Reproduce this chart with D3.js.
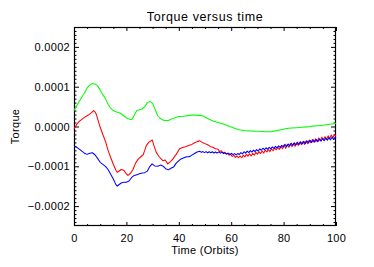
<!DOCTYPE html>
<html><head><meta charset="utf-8">
<script src="https://cdn.jsdelivr.net/npm/d3@7"></script>
<style>
html,body{margin:0;padding:0;background:#fff;}
svg{display:block;}
text{font-family:"Liberation Sans",Arial,Helvetica,sans-serif;fill:#000;}
</style></head>
<body><svg id="chart" width="374" height="267"></svg>
<script>
// Torque values are in units of 1e-4
const UNIT = 1e-4;
const titleText = "Torque versus time";
const xLabel = "Time (Orbits)";
const yLabel = "Torque";
const xTicks = [0, 20, 40, 60, 80, 100];
const xMinorTicks = [5,10,15,25,30,35,45,50,55,65,70,75,85,90,95];
const yTicks = [-0.0002, -0.0001, 0, 0.0001, 0.0002];
const yTickLabels = ["\u22120.0002", "\u22120.0001", "0.0000", "0.0001", "0.0002"];
const yMinorTicks = [-2.4,-2.3,-2.2,-2.1,-1.9,-1.8,-1.7,-1.6,-1.5,-1.4,-1.3,-1.2,-1.1,-0.9,-0.8,-0.7,-0.6,-0.5,-0.4,-0.3,-0.2,-0.1,0.1,0.2,0.3,0.4,0.5,0.6,0.7,0.8,0.9,1.1,1.2,1.3,1.4,1.5,1.6,1.7,1.8,1.9,2.1,2.2,2.3,2.4];

const greenSeries = [[0,0.40],[1,0.52],[2,0.63],[3,0.74],[4,0.84],[5,0.97],[6,1.04],[7,1.08],[8,1.07],[9,1.02],[10,0.92],[11,0.80],[12,0.70],[13,0.56],[14,0.46],[15,0.40],[16,0.37],[17,0.35],[18,0.32],[19,0.27],[20,0.22],[21,0.19],[22,0.17],[23,0.28],[24,0.40],[25,0.42],[26,0.44],[27,0.50],[28,0.60],[29,0.63],[30,0.58],[31,0.42],[32,0.27],[33,0.20],[34,0.16],[35,0.15],[36,0.15],[37,0.18],[38,0.21],[40,0.25],[42,0.26],[44,0.28],[46,0.29],[48,0.28],[49,0.27],[50,0.24],[51,0.20],[52,0.17],[53,0.14],[55,0.10],[57,0.06],[59,0.01],[61,-0.04],[63,-0.08],[65,-0.10],[67,-0.11],[70,-0.12],[73,-0.13],[75,-0.13],[77,-0.11],[79,-0.08],[81,-0.05],[83,-0.04],[85,-0.03],[87,-0.02],[89,-0.01],[91,0.01],[93,0.02],[95,0.03],[97,0.05],[99,0.07],[100,0.08]];

const redSeries = [[0,-0.06],[1,0.05],[2,0.13],[3,0.18],[4,0.23],[5,0.27],[6,0.31],[7,0.37],[7.5,0.40],[8,0.37],[8.5,0.31],[9,0.20],[10,-0.02],[11,-0.20],[12,-0.37],[13,-0.60],[14,-0.78],[15,-0.95],[16,-1.10],[16.5,-1.15],[17,-1.13],[18,-1.08],[19,-1.10],[20,-1.19],[20.6,-1.23],[21.5,-1.18],[22.5,-1.08],[23.5,-0.92],[24.5,-0.82],[25.5,-0.76],[26.4,-0.71],[27,-0.60],[27.6,-0.48],[28.5,-0.40],[29.9,-0.34],[30.5,-0.48],[31.4,-0.65],[32.5,-0.76],[33.9,-0.86],[34.8,-0.84],[35.8,-0.94],[36.8,-0.88],[37.7,-0.82],[39,-0.70],[40.3,-0.56],[41.5,-0.53],[42.8,-0.50],[44,-0.47],[45,-0.45],[46,-0.41],[47,-0.38],[48,-0.36],[49,-0.40],[50,-0.43],[51,-0.46],[52,-0.50],[53,-0.52],[54,-0.56],
[55,-0.57],[55.6,-0.63],[56.2,-0.61],[56.8,-0.66],[57.4,-0.645],[58,-0.69],[58.6,-0.67],[59.2,-0.72],[59.8,-0.70],[60.4,-0.75],[61,-0.725],[61.6,-0.775],[62.2,-0.74],[62.8,-0.785],[63.4,-0.74],[64,-0.785],[64.6,-0.72],[65.2,-0.765],[65.8,-0.70],[66.4,-0.745],[67,-0.685],[67.6,-0.74],[68.2,-0.675],[68.8,-0.72],[69.4,-0.65],[70,-0.695],[70.6,-0.63],[71.2,-0.68],[71.8,-0.615],[72.4,-0.665],[73,-0.595],[73.6,-0.64],[74.2,-0.58],[74.8,-0.63],[75.4,-0.565],[76,-0.61],[76.6,-0.54],[77.2,-0.585],[77.8,-0.52],[78.4,-0.575],[79,-0.50],[79.6,-0.56],[80.2,-0.465],[80.8,-0.55],[81.4,-0.455],[82,-0.52],[82.6,-0.435],[83.2,-0.505],[83.8,-0.42],[84.4,-0.495],[85,-0.41],[85.6,-0.475],[86.2,-0.39],[86.8,-0.455],[87.4,-0.375],[88,-0.45],[88.6,-0.365],[89.2,-0.43],[89.8,-0.34],[90.4,-0.41],[91,-0.325],[91.6,-0.395],[92.2,-0.31],[92.8,-0.38],[93.4,-0.29],[94,-0.355],[94.6,-0.27],[95.2,-0.34],[95.8,-0.255],[96.4,-0.325],[97,-0.235],[97.6,-0.30],[98.2,-0.215],[98.8,-0.285],[99.4,-0.20],[100,-0.24]];

const blueSeries = [[0,-0.48],[1,-0.52],[2,-0.57],[3,-0.62],[4,-0.67],[5,-0.70],[6,-0.67],[7,-0.66],[8,-0.71],[9,-0.80],[10,-0.90],[11,-0.95],[12,-1.00],[13,-1.08],[14,-1.20],[15,-1.32],[16,-1.46],[16.5,-1.50],[17,-1.47],[18,-1.42],[19,-1.40],[20,-1.40],[21,-1.37],[22,-1.28],[23,-1.23],[24,-1.21],[25,-1.19],[26,-1.17],[27,-1.16],[28,-1.12],[29,-1.00],[29.8,-0.94],[30.8,-0.99],[32,-1.00],[33,-0.97],[34.1,-1.00],[35,-1.06],[36,-1.09],[37,-1.05],[38,-1.02],[39,-0.92],[40.5,-0.83],[41.5,-0.80],[43,-0.76],[44,-0.76],[45,-0.72],[46,-0.68],[47,-0.64],[48,-0.62],[48.6,-0.65],[49.2,-0.63],[49.8,-0.655],[50.4,-0.63],[51,-0.66],[51.6,-0.635],[52.2,-0.66],[52.8,-0.635],[53.4,-0.665],[54,-0.64],[54.6,-0.665],
[55.3,-0.637],[55.9,-0.67],[56.5,-0.645],[57.1,-0.682],[57.7,-0.66],[58.3,-0.695],[58.9,-0.67],[59.5,-0.703],[60.1,-0.675],[60.7,-0.708],[61.3,-0.682],[61.9,-0.715],[62.5,-0.68],[63.1,-0.703],[63.7,-0.657],[64.3,-0.687],[64.9,-0.633],[65.5,-0.669],[66.1,-0.618],[66.7,-0.657],[67.3,-0.606],[67.9,-0.642],[68.5,-0.593],[69.1,-0.632],[69.7,-0.581],[70.3,-0.617],[70.9,-0.563],[71.5,-0.597],[72.1,-0.546],[72.7,-0.584],[73.3,-0.534],[73.9,-0.572],[74.5,-0.523],[75.1,-0.562],[75.7,-0.511],[76.3,-0.549],[76.9,-0.498],[77.5,-0.537],[78.1,-0.488],[78.7,-0.525],[79.3,-0.472],[79.9,-0.515],[80.5,-0.445],[81.1,-0.506],[81.7,-0.438],[82.3,-0.488],[82.9,-0.422],[83.5,-0.475],[84.1,-0.41],[84.7,-0.463],[85.3,-0.397],[85.9,-0.451],[86.5,-0.385],[87.1,-0.44],[87.7,-0.373],[88.3,-0.427],[88.9,-0.36],[89.5,-0.415],[90.1,-0.35],[90.7,-0.403],[91.3,-0.337],[91.9,-0.39],[92.5,-0.325],[93.1,-0.38],[93.7,-0.313],[94.3,-0.367],[94.9,-0.30],[95.5,-0.355],[96.1,-0.29],[96.7,-0.345],[97.3,-0.28],[97.9,-0.335],[98.5,-0.27],[99.1,-0.327],[99.7,-0.262],[100,-0.29]];

const seriesList = [
  {name:"green", data: greenSeries, color:"#00ff00"},
  {name:"red", data: redSeries, color:"#ff0000"},
  {name:"blue", data: blueSeries, color:"#0000ff"}
];

const svg = d3.select("#chart");
svg.append("rect").attr("width",374).attr("height",267).attr("fill","#fff");
const L = 74, R = 336, T = 27, B = 226;
const x = d3.scaleLinear().domain([0,100]).range([L,R]);
const y = d3.scaleLinear().domain([-0.00025,0.00025]).range([B,T]);
const fontSize = 11;

// axes: major/minor ticks on all four sides, pointing inward
const gx = svg.append("g").attr("transform",`translate(0,${B})`);
gx.call(d3.axisBottom(x).tickValues(xTicks).tickSize(-4).tickPadding(8).tickFormat(d3.format("d")).tickSizeOuter(0));
gx.append("g").call(d3.axisBottom(x).tickValues(xMinorTicks).tickSize(-2).tickFormat("").tickSizeOuter(0));
const gxt = svg.append("g").attr("transform",`translate(0,${T})`);
gxt.call(d3.axisTop(x).tickValues(xTicks).tickSize(-4).tickFormat("").tickSizeOuter(0));
gxt.append("g").call(d3.axisTop(x).tickValues(xMinorTicks).tickSize(-2).tickFormat("").tickSizeOuter(0));

const gy = svg.append("g").attr("transform",`translate(${L},0)`);
gy.call(d3.axisLeft(y).tickValues(yTicks).tickSize(-5).tickPadding(4).tickFormat((d,i)=>yTickLabels[i]).tickSizeOuter(0));
gy.append("g").call(d3.axisLeft(y).tickValues(yMinorTicks.map(v=>v*UNIT)).tickSize(-2.5).tickFormat("").tickSizeOuter(0));
const gyr = svg.append("g").attr("transform",`translate(${R},0)`);
gyr.call(d3.axisRight(y).tickValues(yTicks).tickSize(-5).tickFormat("").tickSizeOuter(0));
gyr.append("g").call(d3.axisRight(y).tickValues(yMinorTicks.map(v=>v*UNIT)).tickSize(-2.5).tickFormat("").tickSizeOuter(0));

svg.selectAll(".domain").remove();
svg.selectAll(".tick line").attr("stroke","#000").attr("stroke-width",1);
svg.selectAll(".tick text").attr("font-size",fontSize).attr("font-family","Liberation Sans, Arial, sans-serif").attr("fill","#000").style("letter-spacing","0.3px");

// frame
svg.append("rect").attr("x",L+0.5).attr("y",T+0.5).attr("width",R-L-1).attr("height",B-T-1)
  .attr("fill","none").attr("stroke","#000").attr("stroke-width",1.2);

// lines
const line = d3.line().x(d=>x(d[0])).y(d=>y(d[1]*UNIT));
svg.append("g").selectAll("path").data(seriesList).join("path")
  .attr("d",d=>line(d.data)).attr("fill","none").attr("stroke",d=>d.color)
  .attr("stroke-width",1.05).attr("stroke-linejoin","round");

// title & labels
svg.append("text").attr("x",(L+R)/2).attr("y",21).attr("text-anchor","middle")
  .attr("font-size",12.5).style("letter-spacing","0.6px").text(titleText);
svg.append("text").attr("x",(L+R)/2).attr("y",254).attr("text-anchor","middle")
  .attr("font-size",fontSize).style("letter-spacing","0.3px").text(xLabel);
svg.append("text").attr("transform",`translate(18.5,${(T+B)/2}) rotate(-90)`).attr("text-anchor","middle")
  .attr("font-size",fontSize).style("letter-spacing","0.3px").text(yLabel);
</script></body></html>
